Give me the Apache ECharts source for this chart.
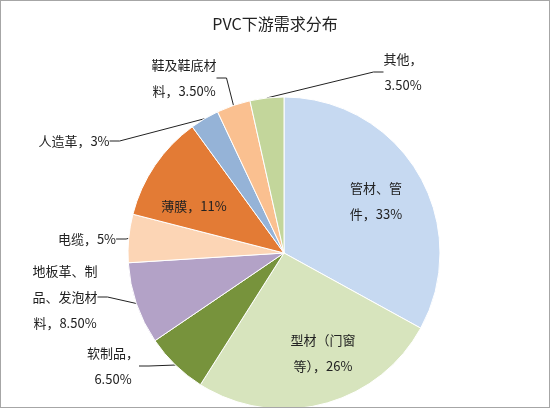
<!DOCTYPE html>
<html><head><meta charset="utf-8">
<script src="https://cdn.jsdelivr.net/npm/echarts@6/dist/echarts.min.js"></script>
<style>html,body{margin:0;padding:0;background:#fff}#c{width:548px;height:406px;border:1px solid #a6a6a6}</style>
</head><body><div id="c"></div>
<script>
// 数据
const names = ['管材、管\n件，33%', '型材（门窗\n等），26%', '软制品，\n6.50%', '地板革、制\n品、发泡材\n料，8.50%', '电缆，5%', '薄膜，11%', '人造革，3%', '鞋及鞋底材\n料，3.50%', '其他，\n3.50%'];
const values = [33, 26, 6.5, 8.5, 5, 11, 3, 3.5, 3.5];
const colors = ['#c6d9f1', '#d7e4bd', '#77933c', '#b3a2c7', '#fcd5b5', '#e37b35', '#95b3d7', '#fac090', '#c3d69b'];
const inside = [true, true, false, false, false, true, false, false, false];
// 标签位置
const labelPos = [[375, 200, 'center'], [322, 352, 'center'], [112, 365, 'center'], [64, 296, 'center'],
  [86, 238, 'center'], [193, 205, 'center'], [73, 140, 'center'], [183, 77, 'center'], [374, 71, 'right']];

const chart = echarts.init(document.getElementById('c'));
chart.setOption({
  title: { text: 'PVC下游需求分布', left: 'center', top: 10,
    textStyle: { fontSize: 16, fontWeight: 'normal', color: '#222', fontFamily: 'Noto Sans CJK SC' } },
  series: [{
    type: 'pie', radius: 156, center: [283, 252], startAngle: 90, clockwise: true,
    itemStyle: { borderColor: '#fff', borderWidth: 1 },
    label: { fontSize: 13, color: '#222', lineHeight: 26, fontFamily: 'Noto Sans CJK SC', align: 'center' },
    labelLine: { show: true, length: 10, length2: 10, lineStyle: { color: '#222', width: 1 } },
    labelLayout: p => {
      const q = labelPos[p.dataIndex];
      return { x: q[0] + (q[2] === 'right' ? 28 : 0), y: q[1], align: 'center', verticalAlign: 'middle' };
    },
    data: values.map((v, i) => ({
      value: v, name: names[i], itemStyle: { color: colors[i] },
      label: { position: inside[i] ? 'inside' : 'outside' },
      labelLine: { show: !inside[i] }
    })),
    label_formatter: null
  }]
});
</script></body></html>
